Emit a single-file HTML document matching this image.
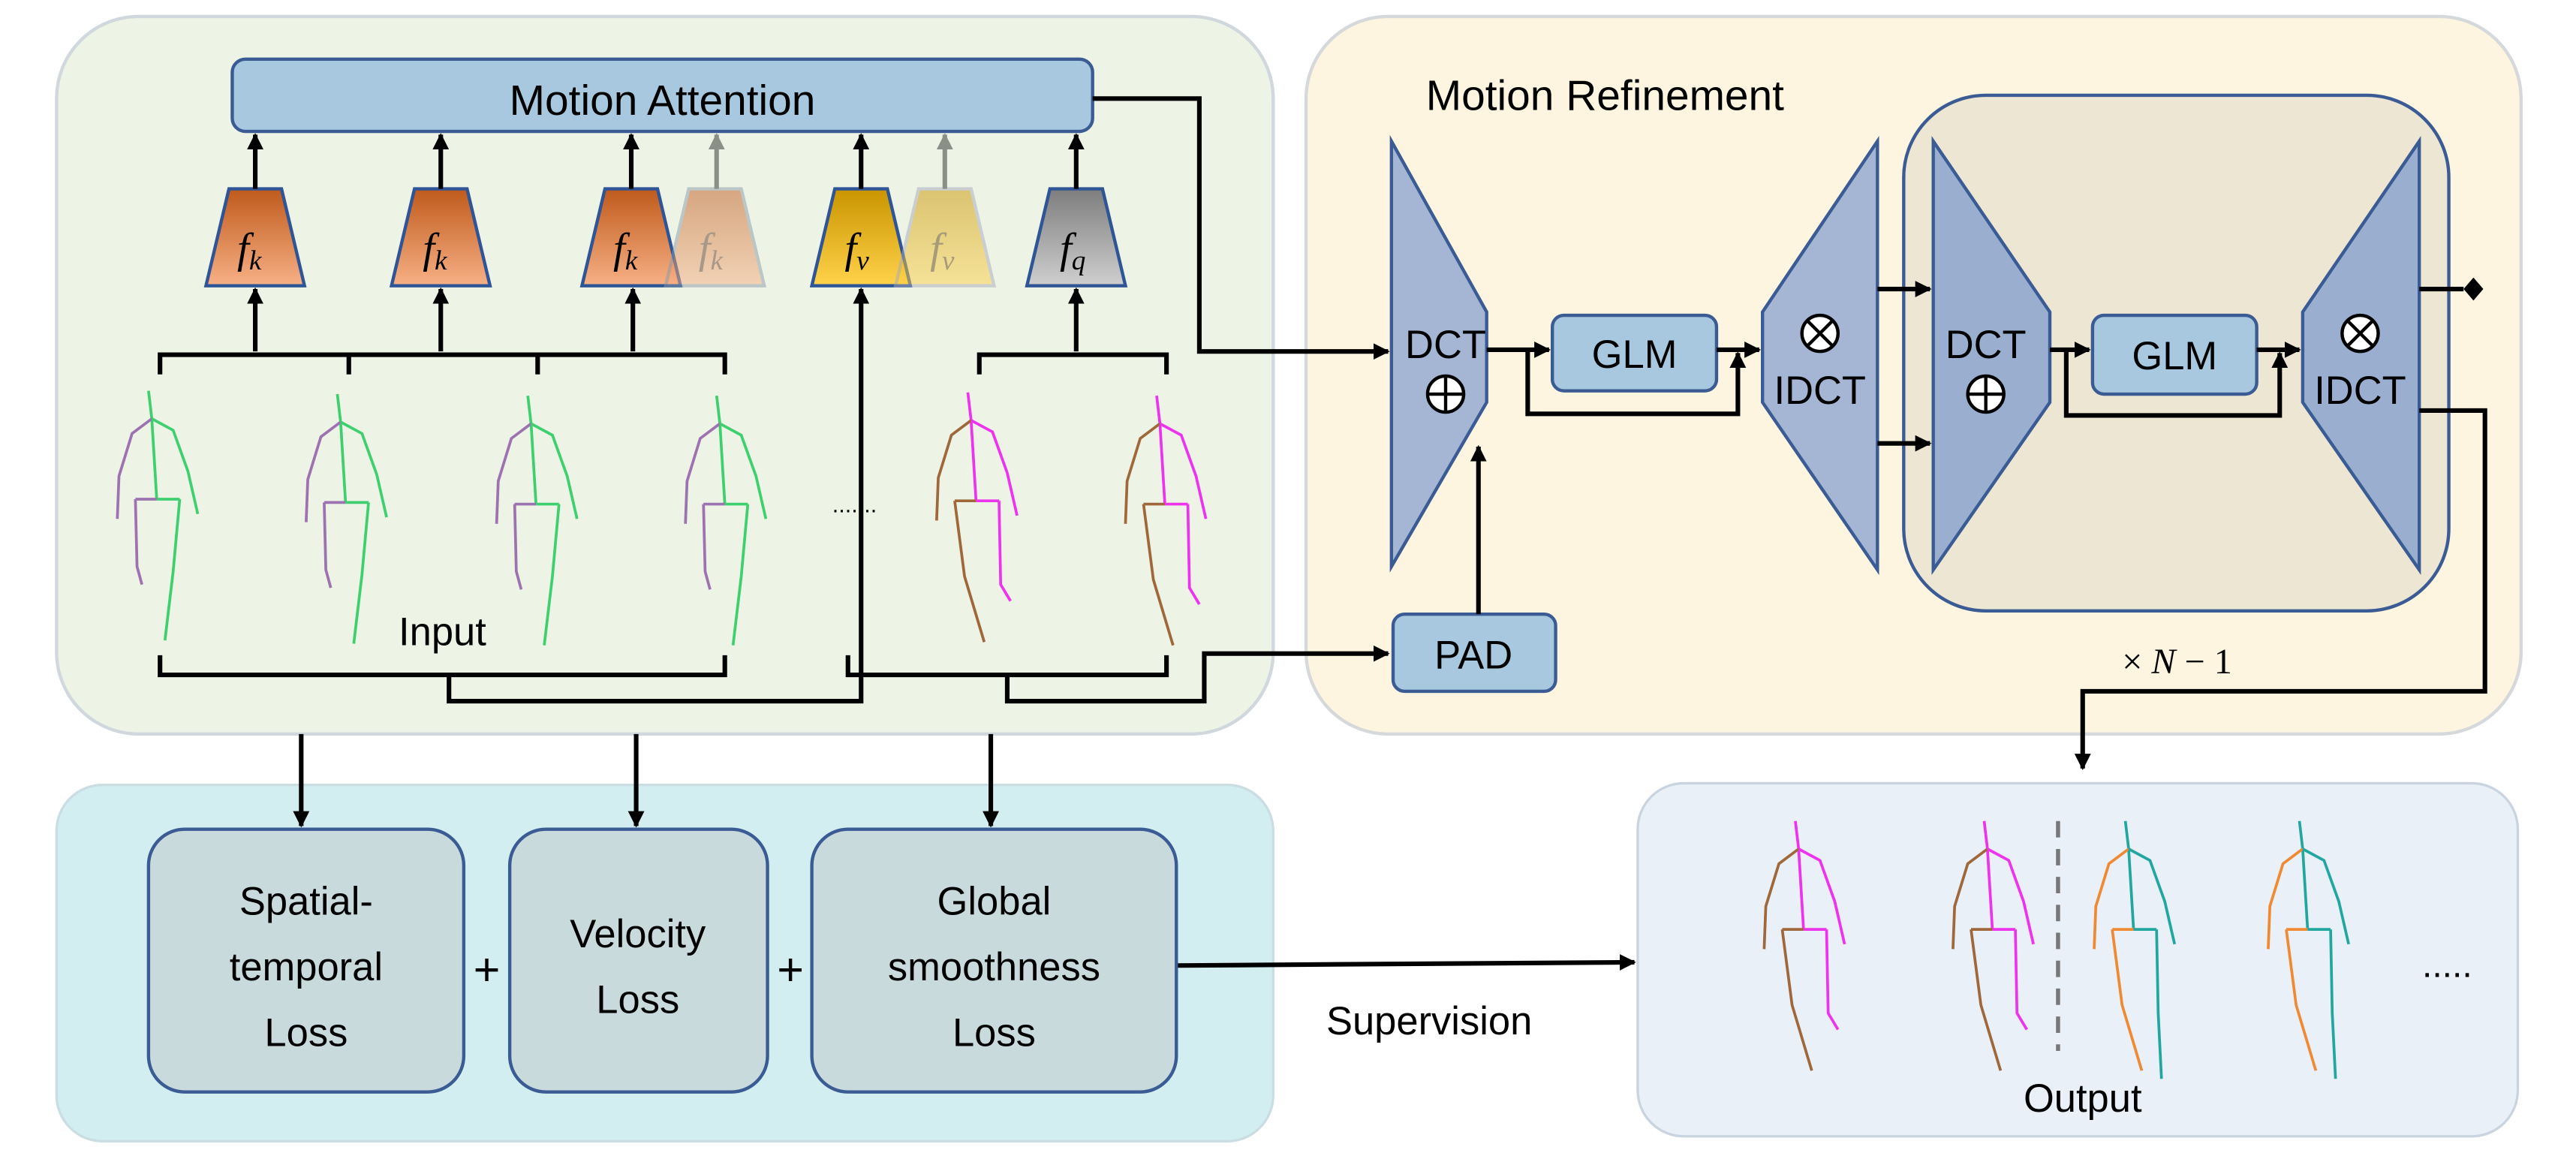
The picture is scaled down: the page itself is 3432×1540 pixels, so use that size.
<!DOCTYPE html>
<html><head><meta charset="utf-8"><style>html,body{margin:0;padding:0;background:#fff}svg{display:block}</style></head><body>
<svg width="3432" height="1540" viewBox="0 0 1568 704" xmlns="http://www.w3.org/2000/svg" font-family="Liberation Sans, sans-serif">
<defs>
<linearGradient id="go" x1="0" y1="0" x2="0" y2="1"><stop offset="0" stop-color="#bf5a1c"/><stop offset="1" stop-color="#f7b085"/></linearGradient>
<linearGradient id="gy" x1="0" y1="0" x2="0" y2="1"><stop offset="0" stop-color="#c99500"/><stop offset="1" stop-color="#ffd24a"/></linearGradient>
<linearGradient id="gg" x1="0" y1="0" x2="0" y2="1"><stop offset="0" stop-color="#7d7d7d"/><stop offset="1" stop-color="#cfcfcf"/></linearGradient>
<marker id="a" markerWidth="10" markerHeight="10" refX="9" refY="5" orient="auto" markerUnits="userSpaceOnUse"><path d="M0,0 L10,5 L0,10z" fill="#000"/></marker>
<marker id="ag" markerWidth="10" markerHeight="10" refX="9" refY="5" orient="auto" markerUnits="userSpaceOnUse"><path d="M0,0 L10,5 L0,10z" fill="#8a9088"/></marker>
<g id="sk1" fill="none" stroke-width="1.7">
<path d="M-2,-17 L0,0 L3,49" stroke="#3ecf6e"/>
<path d="M0,0 L-12,9 L-20,35 L-21,61" stroke="#9c72b0"/>
<path d="M0,0 L13,7 L22,32 L28,58" stroke="#3ecf6e"/>
<path d="M-10,49 L3,49" stroke="#9c72b0"/><path d="M3,49 L17,49" stroke="#3ecf6e"/>
<path d="M-10,49 L-9,90 L-6,101" stroke="#9c72b0"/>
<path d="M17,49 L13,93 L8,135" stroke="#3ecf6e"/>
</g>
<g id="sk2" fill="none" stroke-width="1.7">
<path d="M-2,-17 L0,0 L3,49" stroke="#ee33ee"/>
<path d="M0,0 L-12,9 L-20,35 L-21,61" stroke="#a0683a"/>
<path d="M0,0 L13,7 L22,32 L28,58" stroke="#ee33ee"/>
<path d="M-10,49 L3,49" stroke="#a0683a"/><path d="M3,49 L17,49" stroke="#ee33ee"/>
<path d="M-10,49 L-4,95 L8,135" stroke="#a0683a"/>
<path d="M17,49 L18,100 L24,110" stroke="#ee33ee"/>
</g>
<g id="sk3" fill="none" stroke-width="1.7">
<path d="M-2,-17 L0,0 L3,49" stroke="#22a7a0"/>
<path d="M0,0 L-12,9 L-20,35 L-21,61" stroke="#ef8a33"/>
<path d="M0,0 L13,7 L22,32 L28,58" stroke="#22a7a0"/>
<path d="M-10,49 L3,49" stroke="#ef8a33"/><path d="M3,49 L17,49" stroke="#22a7a0"/>
<path d="M-10,49 L-4,95 L8,135" stroke="#ef8a33"/>
<path d="M17,49 L18,100 L20,140" stroke="#22a7a0"/>
</g>
</defs>
<rect width="1568" height="704" fill="#fff"/>
<rect x="34" y="10" width="741" height="437" rx="50" fill="#edf4e6" stroke="#d0d8de" stroke-width="2"/>
<rect x="795" y="10" width="740" height="437" rx="50" fill="#fdf5df" stroke="#d6d9dc" stroke-width="2"/>
<rect x="34" y="478" width="741" height="217" rx="28" fill="#d2eef1" stroke="#c9dde3" stroke-width="1.5"/>
<rect x="997" y="477" width="536" height="215" rx="28" fill="#e9f0f8" stroke="#c9d4e0" stroke-width="1.5"/>
<rect x="141" y="36" width="524" height="44" rx="8" fill="#a7c8de" stroke="#3a5b94" stroke-width="2"/>
<text x="403" y="70" font-size="26" text-anchor="middle">Motion Attention</text>
<g stroke-width="2">
<polygon points="139,115 171,115 185,174 125,174" fill="url(#go)" stroke="#2f5597"/>
<polygon points="252,115 284,115 298,174 238,174" fill="url(#go)" stroke="#2f5597"/>
<polygon points="368,115 400,115 414,174 354,174" fill="url(#go)" stroke="#2f5597"/>
<polygon points="419,115 451,115 465,174 405,174" fill="url(#go)" stroke="#8a9aa8" opacity="0.5"/>
<polygon points="508,115 540,115 554,174 494,174" fill="url(#gy)" stroke="#2f5597"/>
<polygon points="559,115 591,115 605,174 545,174" fill="url(#gy)" stroke="#aab" opacity="0.5"/>
<polygon points="639,115 671,115 685,174 625,174" fill="url(#gg)" stroke="#2f5597"/>
</g>
<g font-family="Liberation Serif, serif" font-style="italic" font-size="26">
<text x="144" y="160">f<tspan font-size="17" dy="4">k</tspan></text>
<text x="257" y="160">f<tspan font-size="17" dy="4">k</tspan></text>
<text x="373" y="160">f<tspan font-size="17" dy="4">k</tspan></text>
<text x="425" y="160" fill="#a89888">f<tspan font-size="17" dy="4">k</tspan></text>
<text x="514" y="160">f<tspan font-size="17" dy="4">v</tspan></text>
<text x="566" y="160" fill="#a89c78">f<tspan font-size="17" dy="4">v</tspan></text>
<text x="645" y="160">f<tspan font-size="17" dy="4">q</tspan></text>
</g>
<g stroke="#000" stroke-width="2.8" fill="none">
<path d="M155,115 V82" marker-end="url(#a)"/><path d="M268,115 V82" marker-end="url(#a)"/><path d="M384,115 V82" marker-end="url(#a)"/>
<path d="M524,115 V82" marker-end="url(#a)"/><path d="M655,115 V82" marker-end="url(#a)"/>
<path d="M155,214 V176" marker-end="url(#a)"/><path d="M268,214 V176" marker-end="url(#a)"/><path d="M385,214 V176" marker-end="url(#a)"/>
<path d="M655,214 V176" marker-end="url(#a)"/>
<path d="M97,228 V216 H441 V228 M212,216 V228 M327,216 V228"/>
<path d="M596,228 V216 H710 V228"/>
<path d="M97,399 V411 H441 V399"/>
<path d="M516,399 V411 H710 V399"/>
<path d="M273,411 V427 H524 V176" marker-end="url(#a)"/>
<path d="M613,411 V427 H733 V398 H845" marker-end="url(#a)"/>
<path d="M665,60 H730 V214 H845" marker-end="url(#a)"/>
<path d="M183,447 V503" marker-end="url(#a)"/><path d="M387,447 V503" marker-end="url(#a)"/><path d="M603,447 V503" marker-end="url(#a)"/>
<path d="M716,588 L995,586" marker-end="url(#a)"/>
</g>
<g stroke="#8a9088" stroke-width="2.8"><path d="M436,115 V82" marker-end="url(#ag)"/><path d="M575,115 V82" marker-end="url(#ag)"/></g>
<use href="#sk1" x="92" y="255"/><use href="#sk1" x="207" y="257"/><use href="#sk1" x="323" y="258"/><use href="#sk1" x="438" y="258"/>
<use href="#sk2" x="591" y="256"/><use href="#sk2" x="706" y="258"/>
<text x="520" y="312" font-size="14" text-anchor="middle">.......</text>
<text x="269" y="393" font-size="24" text-anchor="middle">Input</text>
<text x="868" y="67" font-size="26">Motion Refinement</text>
<rect x="1159" y="58" width="332" height="314" rx="50" fill="#ede6d2" stroke="#3a5b94" stroke-width="2"/>
<g fill="#a4b6d4" stroke="#3a5b94" stroke-width="2">
<polygon points="847,86 905,190 905,245 847,345"/>
<polygon points="1143,86 1143,347 1073,245 1073,190"/>
<polygon points="1177,86 1248,190 1248,245 1177,347" fill="#9aafcf"/>
<polygon points="1473,86 1473,347 1402,245 1402,190" fill="#9aafcf"/>
</g>
<g fill="#a7c8de" stroke="#3a5b94" stroke-width="2">
<rect x="945" y="192" width="100" height="46" rx="7"/>
<rect x="1274" y="192" width="100" height="48" rx="7"/>
<rect x="848" y="374" width="99" height="47" rx="7"/>
</g>
<g font-size="24" text-anchor="middle">
<text x="880" y="218">DCT</text><text x="1209" y="218">DCT</text>
<text x="995" y="224">GLM</text><text x="1324" y="225">GLM</text>
<text x="1108" y="246">IDCT</text><text x="1437" y="246">IDCT</text>
<text x="897" y="407">PAD</text>
</g>
<g fill="#fff" stroke="#000" stroke-width="2">
<circle cx="880" cy="240" r="11"/><path d="M869,240 H891 M880,229 V251"/>
<circle cx="1209" cy="240" r="11"/><path d="M1198,240 H1220 M1209,229 V251"/>
<circle cx="1108" cy="203" r="11"/><path d="M1100,195 L1116,211 M1116,195 L1100,211"/>
<circle cx="1437" cy="203" r="11"/><path d="M1429,195 L1445,211 M1445,195 L1429,211"/>
</g>
<g stroke="#000" stroke-width="2.8" fill="none">
<path d="M905,213 H943" marker-end="url(#a)"/>
<path d="M930,213 V252 H1058 V215" marker-end="url(#a)"/>
<path d="M1045,213 H1071" marker-end="url(#a)"/>
<path d="M1248,213 H1272" marker-end="url(#a)"/>
<path d="M1258,213 V253 H1388 V215" marker-end="url(#a)"/>
<path d="M1374,213 H1400" marker-end="url(#a)"/>
<path d="M1143,176 H1175" marker-end="url(#a)"/>
<path d="M1143,270 H1175" marker-end="url(#a)"/>
<path d="M1473,176 H1500"/>
<path d="M900,374 V272" marker-end="url(#a)"/>
<path d="M1473,250 H1513 V421 H1268 V468" marker-end="url(#a)"/>
</g>
<path d="M1500,176 L1506,169 L1512,176 L1506,183z" fill="#000"/>
<text x="1292" y="410" font-size="22" font-family="Liberation Serif, serif">× <tspan font-style="italic">N</tspan> − 1</text>
<g fill="#c9dadd" stroke="#3a5b94" stroke-width="2">
<rect x="90" y="505" width="192" height="160" rx="22"/>
<rect x="310" y="505" width="157" height="160" rx="22"/>
<rect x="494" y="505" width="222" height="160" rx="22"/>
</g>
<g font-size="24" text-anchor="middle">
<text x="186" y="557">Spatial-</text><text x="186" y="597">temporal</text><text x="186" y="637">Loss</text>
<text x="388" y="577">Velocity</text><text x="388" y="617">Loss</text>
<text x="605" y="557">Global</text><text x="605" y="597">smoothness</text><text x="605" y="637">Loss</text>
<text x="296" y="600" font-size="28">+</text><text x="481" y="600" font-size="28">+</text>
<text x="870" y="630">Supervision</text>
<text x="1268" y="677">Output</text>
</g>
<use href="#sk2" x="1095" y="517"/><use href="#sk2" x="1210" y="517"/>
<use href="#sk3" x="1296" y="517"/><use href="#sk3" x="1402" y="517"/>
<path d="M1253,500 V640" stroke="#777" stroke-width="2.5" stroke-dasharray="10,7"/>
<text x="1490" y="595" font-size="22" text-anchor="middle">.....</text>
</svg>
</body></html>
